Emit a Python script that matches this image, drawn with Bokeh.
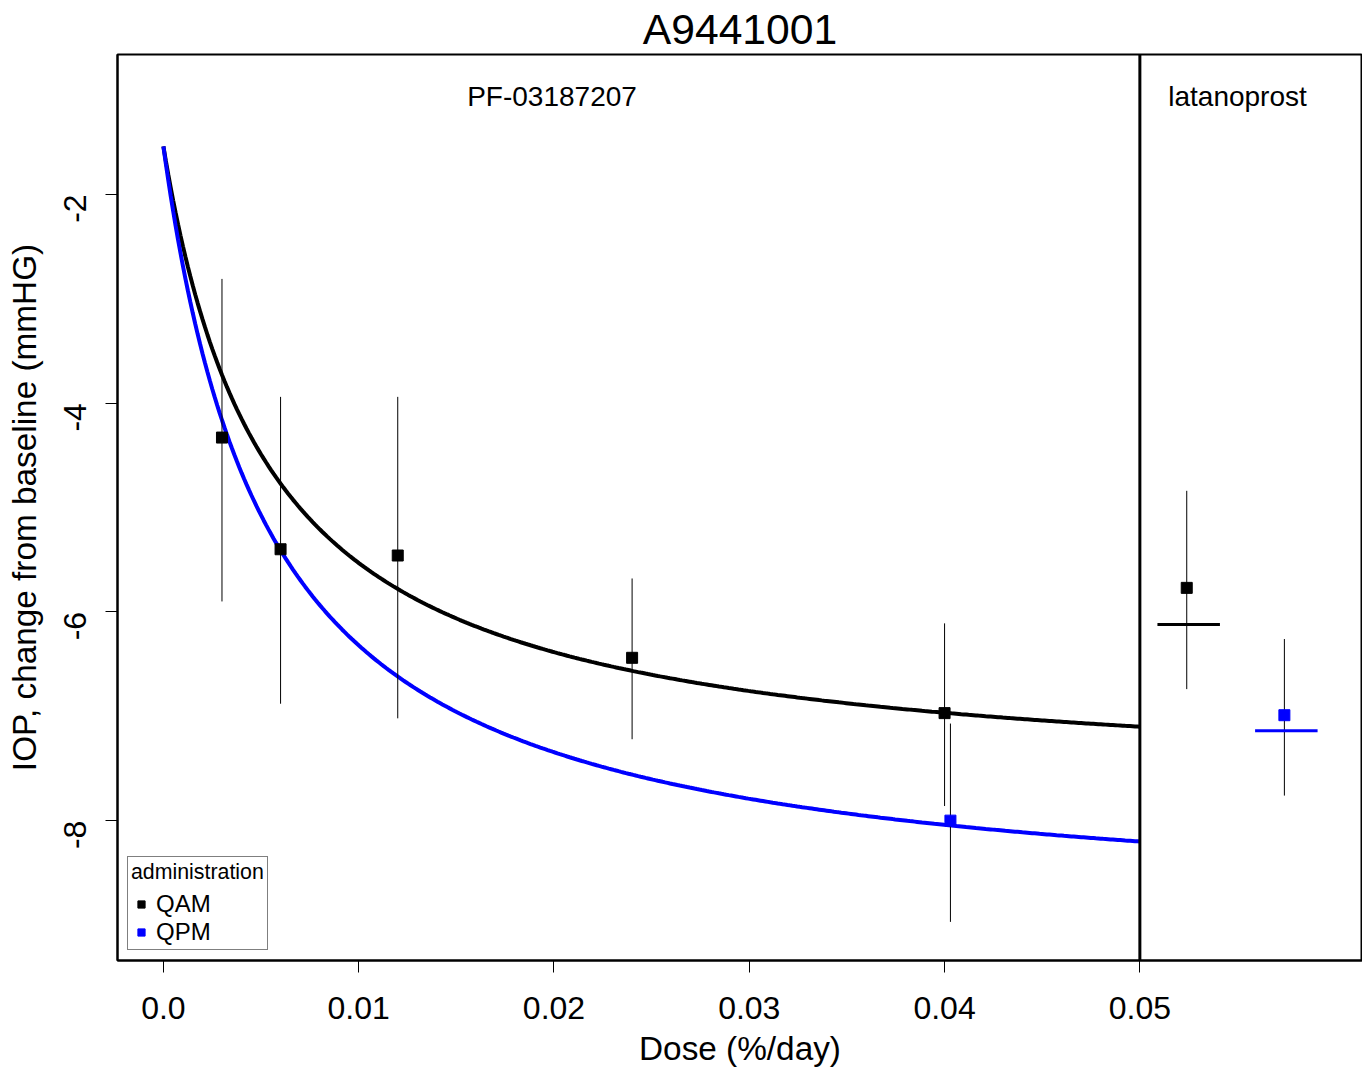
import numpy as np
from bokeh.plotting import figure
from bokeh.models import Range1d, FixedTicker, Span, Label, Legend, LegendItem, Title
from bokeh.embed import file_html
from bokeh.resources import INLINE

# observed means and intervals
qam_dose = [0.003, 0.006, 0.012, 0.024, 0.040]
qam_mean = [-4.33, -5.40, -5.46, -6.44, -6.97]
qam_hi = [-2.81, -3.94, -3.94, -5.68, -6.11]
qam_lo = [-5.90, -6.88, -7.02, -7.22, -7.86]
qpm_dose = [0.0403]
qpm_mean = [-8.00]
qpm_hi = [-7.07]
qpm_lo = [-8.97]
# latanoprost
lat_x = [0.0524, 0.0574]
lat_mean = [-5.77, -6.99]
lat_hi = [-4.84, -6.26]
lat_lo = [-6.74, -7.76]
lat_pred = [-6.12, -7.14]
lat_colors = ["black", "blue"]
# Emax model fits: E0, Emax, ED50
qam_fit = (-1.54, -6.166, 0.00545)
qpm_fit = (-1.54, -7.386, 0.00545)

xticks = [0.0, 0.01, 0.02, 0.03, 0.04, 0.05]
xlabels = {0.0: "0.0", 0.01: "0.01", 0.02: "0.02", 0.03: "0.03", 0.04: "0.04", 0.05: "0.05"}
yticks = [-2, -4, -6, -8]
ylabels = {-2: "-2", -4: "-4", -6: "-6", -8: "-8"}

F = "Liberation Sans"
p = figure(width=1362, height=1069, output_backend="svg", toolbar_location=None,
           x_range=Range1d(-0.00235, 0.0614), y_range=Range1d(-9.34, -0.66),
           min_border_left=117, min_border_right=0, min_border_top=41, min_border_bottom=98,
           x_axis_label="Dose (%/day)", y_axis_label="IOP, change from baseline (mmHG)")
p.title = Title(text="A9441001", align="center", text_font=F, text_color="black",
                text_font_size="32pt", text_font_style="normal", offset=0, standoff=4)
p.grid.visible = False
p.outline_line_color = "black"
p.outline_line_width = 2
for ax in (p.xaxis, p.yaxis):
    ax.axis_line_width = 2
    ax.major_tick_line_width = 1
    ax.major_tick_out = 12
    ax.major_tick_in = 0
    ax.minor_tick_line_color = None
    ax.major_label_text_font = F
    ax.major_label_text_font_size = "24pt"
    ax.axis_label_text_font = F
    ax.axis_label_text_font_size = "25pt"
    ax.axis_label_text_font_style = "normal"
    ax.axis_label_text_color = "black"
    ax.major_label_text_color = "black"
p.xaxis.major_label_standoff = 24
p.yaxis.major_label_standoff = 30
p.xaxis.axis_label_standoff = 8
p.yaxis.axis_label_standoff = 8
p.xaxis.ticker = FixedTicker(ticks=xticks)
p.xaxis.major_label_overrides = xlabels
p.yaxis.ticker = FixedTicker(ticks=yticks)
p.yaxis.major_label_overrides = ylabels
p.yaxis.major_label_orientation = np.pi / 2

d = np.linspace(0, 0.05, 400)
for (e0, em, ed), col in ((qam_fit, "black"), (qpm_fit, "blue")):
    p.line(d, e0 + em * d / (ed + d), line_color=col, line_width=4)

p.add_layout(Span(location=0.05, dimension="height", line_color="black", line_width=3))

for xs, lo, hi in ((qam_dose, qam_lo, qam_hi), (qpm_dose, qpm_lo, qpm_hi), (lat_x, lat_lo, lat_hi)):
    p.segment(xs, lo, xs, hi, line_color="black", line_width=1)

r_qam = p.scatter(qam_dose, qam_mean, marker="square", size=11, color="black")
r_qpm = p.scatter(qpm_dose, qpm_mean, marker="square", size=11, color="blue")
p.scatter(lat_x, lat_mean, marker="square", size=11, color=lat_colors)
p.segment([x - 0.0015 for x in lat_x], lat_pred, [x + 0.0017 for x in lat_x], lat_pred,
          line_color=lat_colors, line_width=3)

p.add_layout(Label(x=0.0199, y=-1.06, text="PF-03187207", text_align="center", text_baseline="middle",
                   text_font=F, text_font_size="21pt", text_color="black"))
p.add_layout(Label(x=0.055, y=-1.06, text="latanoprost", text_align="center", text_baseline="middle",
                   text_font=F, text_font_size="21pt", text_color="black"))

leg = Legend(items=[LegendItem(label="QAM", renderers=[r_qam]), LegendItem(label="QPM", renderers=[r_qpm])],
             location="bottom_left", title="administration", title_text_font=F,
             title_text_font_size="16pt", title_text_font_style="normal", title_text_color="black",
             label_text_font=F, label_text_font_size="18pt", label_text_color="black",
             border_line_color="black", border_line_width=1, padding=3, spacing=0, margin=10,
             label_height=18, glyph_height=18, background_fill_alpha=1)
p.add_layout(leg)

open("out.html", "w").write(file_html(p, INLINE))
